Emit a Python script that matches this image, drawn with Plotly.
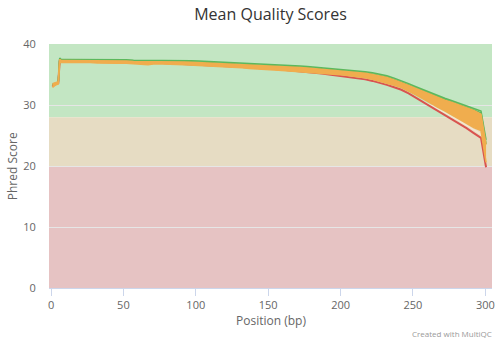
import plotly.graph_objects as go

# FastQC base positions (bin midpoints)
positions = [1, 2, 3, 4, 5, 6, 7, 8, 9,
             12, 17, 22, 27, 32, 37, 42, 47, 52, 57, 62, 67, 72, 77, 82, 87, 92, 97,
             102, 107, 112, 117, 122, 127, 132, 137, 142, 147, 152, 157, 162, 167, 172,
             177, 182, 187, 192, 197, 202, 207, 212, 217, 222, 227, 232, 237, 242, 247,
             252, 257, 262, 267, 272, 277, 282, 287, 292, 297, 300.5]

green_a = [33.4, 33.5, 33.6, 33.7, 33.7, 37.7, 37.45, 37.45, 37.45,
           37.5, 37.5, 37.5, 37.45, 37.4, 37.4, 37.4, 37.4, 37.4, 37.35, 37.35, 37.3, 37.35, 37.35,
           37.3, 37.3, 37.3, 37.25, 37.2, 37.15, 37.1, 37.05, 37.0, 36.95, 36.9, 36.85, 36.8, 36.75,
           36.65, 36.6, 36.5, 36.45, 36.4, 36.3, 36.2, 36.15, 36.05, 35.95, 35.85, 35.75, 35.6, 35.45,
           35.3, 35.1, 34.8, 34.4, 34.0, 33.5, 33.0, 32.5, 32.0, 31.5, 31.1, 30.7, 30.3, 29.9, 29.5,
           29.0, 24.3]

green_b = [33.3, 33.4, 33.5, 33.6, 33.6, 37.6, 37.4, 37.4, 37.4,
           37.4, 37.4, 37.4, 37.35, 37.3, 37.3, 37.3, 37.3, 37.3, 37.25, 37.25, 37.2, 37.25, 37.25,
           37.2, 37.2, 37.15, 37.1, 37.05, 37.0, 36.95, 36.9, 36.85, 36.8, 36.75, 36.7, 36.65, 36.6,
           36.5, 36.45, 36.35, 36.3, 36.25, 36.15, 36.05, 36.0, 35.9, 35.8, 35.7, 35.6, 35.45, 35.3,
           35.1, 34.9, 34.6, 34.2, 33.8, 33.3, 32.8, 32.3, 31.8, 31.3, 30.9, 30.5, 30.1, 29.7, 29.2,
           28.7, 23.6]

orange_top = [33.5, 33.6, 33.7, 33.8, 33.8, 37.5, 37.3, 37.3, 37.3,
              37.3, 37.3, 37.3, 37.25, 37.2, 37.2, 37.2, 37.2, 37.2, 37.15, 37.15, 37.05, 37.15, 37.15,
              37.1, 37.1, 37.05, 37.0, 36.95, 36.9, 36.85, 36.8, 36.75, 36.7, 36.65, 36.6, 36.55, 36.5,
              36.4, 36.35, 36.25, 36.2, 36.15, 36.05, 35.95, 35.9, 35.8, 35.7, 35.6, 35.5, 35.35, 35.2,
              35.0, 34.8, 34.5, 34.1, 33.7, 33.2, 32.7, 32.2, 31.7, 31.2, 30.8, 30.4, 30.0, 29.6, 29.1,
              28.5, 23.5]

orange_bot = [32.9, 33.15, 33.25, 33.35, 33.45, 37.15, 36.95, 36.95, 36.95,
              37.05, 37.05, 37.0, 36.95, 36.9, 36.85, 36.85, 36.85, 36.85, 36.8, 36.75, 36.6, 36.75,
              36.75, 36.7, 36.65, 36.6, 36.55, 36.5, 36.45, 36.35, 36.3, 36.25, 36.15, 36.1, 36.0,
              35.95, 35.85, 35.8, 35.7, 35.6, 35.5, 35.4, 35.3, 35.25, 35.2, 35.12, 35.02, 34.93, 34.8,
              34.62, 34.45, 34.2, 33.9, 33.6, 33.25, 32.85, 32.3, 31.65, 31.0, 30.3, 29.65, 29.05,
              28.4, 27.75, 27.0, 26.3, 25.8, 20.6]

red = [33.0, 33.3, 33.4, 33.5, 33.6, 37.3, 37.1, 37.1, 37.1,
       37.2, 37.2, 37.15, 37.1, 37.05, 37.0, 37.0, 37.0, 37.0, 36.95, 36.9, 36.9, 36.9, 36.9,
       36.85, 36.8, 36.75, 36.7, 36.65, 36.6, 36.5, 36.45, 36.4, 36.3, 36.25, 36.15, 36.1, 36.0,
       35.95, 35.85, 35.75, 35.65, 35.55, 35.45, 35.35, 35.15, 35.0, 34.85, 34.75, 34.62, 34.45,
       34.2, 33.95, 33.65, 33.3, 32.9, 32.5, 31.9, 31.2, 30.5, 29.75, 29.05, 28.4, 27.7, 27.0,
       26.2, 25.4, 24.6, 19.8]

pale_positions = positions[-10:]
pale = [30.55, 30.0, 29.35, 28.75, 28.1, 27.4, 26.65, 25.9, 25.2, 20.2]

x_ticks = [0, 50, 100, 150, 200, 250, 300]
y_ticks = [0, 10, 20, 30, 40]

GREEN = "#5cb85c"
ORANGE = "#f0ad4e"
RED = "#d9534f"
FONT = "Open Sans"

fig = go.Figure()

fig.add_trace(go.Scatter(x=pale_positions, y=pale, mode="lines",
                         line=dict(color="#f5e6cf", width=1.5)))
fig.add_trace(go.Scatter(x=positions, y=red, mode="lines",
                         line=dict(color=RED, width=2)))
fig.add_trace(go.Scatter(x=positions, y=green_b, mode="lines",
                         line=dict(color=GREEN, width=1.5)))
fig.add_trace(go.Scatter(x=positions, y=green_a, mode="lines",
                         line=dict(color=GREEN, width=1.5)))
fig.add_trace(go.Scatter(x=positions, y=orange_bot, mode="lines",
                         line=dict(color=ORANGE, width=1.5)))
fig.add_trace(go.Scatter(x=positions, y=orange_top, mode="lines", fill="tonexty",
                         fillcolor=ORANGE, line=dict(color=ORANGE, width=1.5)))

# quality bands
bands = [(28, 40, "#c3e6c3"), (20, 28, "#e6dcc3"), (0, 20, "#e6c3c3")]
for y0, y1, c in bands:
    fig.add_shape(type="rect", xref="paper", yref="y", x0=0, x1=1, y0=y0, y1=y1,
                  fillcolor=c, line=dict(width=0), layer="below")

fig.update_layout(
    width=498, height=343,
    margin=dict(l=49, r=3, t=44, b=55),
    paper_bgcolor="white", plot_bgcolor="white",
    showlegend=False,
    font=dict(family=FONT, color="#666666", size=11),
    title=dict(text="Mean Quality Scores", x=0.5, xref="paper", xanchor="center",
               y=1 - 14.5 / 343, yref="container", yanchor="middle",
               font=dict(family=FONT, size=16, color="#333333")),
    xaxis=dict(range=[-1.4, 304.6], tickvals=x_ticks, showgrid=False, zeroline=False,
               showline=True, linecolor="#ccd6eb", linewidth=1,
               ticks="outside", ticklen=7, tickcolor="#ccd6eb",
               tickfont=dict(size=11, color="#666666")),
    yaxis=dict(range=[0, 40], tickvals=y_ticks, showgrid=True, gridcolor="#e6e6e6",
               gridwidth=1, zeroline=False, showline=False,
               ticks="outside", ticklen=10, tickcolor="rgba(0,0,0,0)",
               tickfont=dict(size=11, color="#666666")),
    annotations=[
        dict(text="Position (bp)", xref="paper", yref="paper", x=0.5, y=(288 - 320) / 244,
             xanchor="center", yanchor="middle", showarrow=False,
             font=dict(family=FONT, size=12, color="#666666")),
        dict(text="Phred Score", xref="paper", yref="paper", x=(12 - 49) / 446, y=0.5,
             xanchor="center", yanchor="middle", textangle=-90, showarrow=False,
             font=dict(family=FONT, size=12, color="#666666")),
        dict(text="Created with MultiQC", xref="paper", yref="paper", x=1.004, y=(288 - 333) / 244,
             xanchor="right", yanchor="middle", showarrow=False,
             font=dict(family=FONT, size=8, color="#999999")),
    ],
)

fig.write_html("out.html")
